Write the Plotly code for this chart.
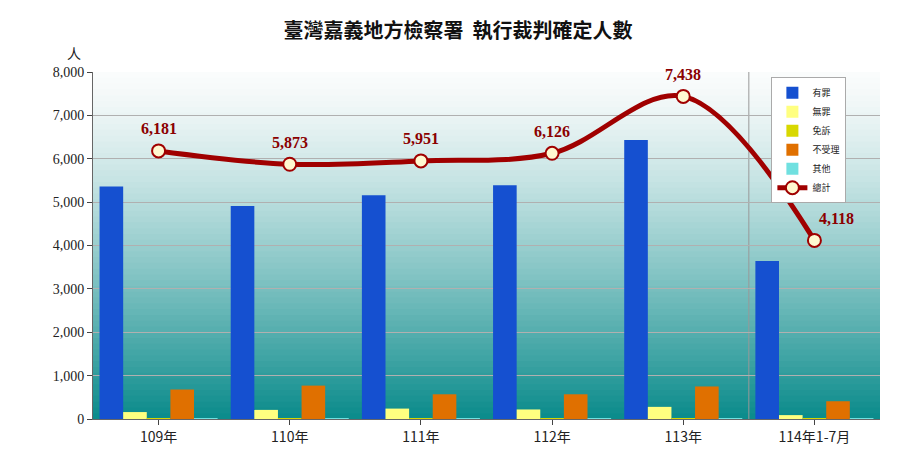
import plotly.graph_objects as go

years = ["109年", "110年", "111年", "112年", "113年", "114年1-7月"]
guilty = [5360, 4910, 5160, 5390, 6430, 3640]
not_guilty = [160, 210, 240, 220, 280, 90]
exempt = [10, 10, 10, 10, 10, 5]
rejected = [680, 770, 570, 570, 750, 410]
others = [15, 15, 15, 15, 15, 10]
total = [6181, 5873, 5951, 6126, 7438, 4118]

fig = go.Figure()

# background gradient white -> teal, overlapping rects so there are no seams
n = 60
for i in range(n):
    t = (i / (n - 1)) ** 1.3
    r = int(250 + (12 - 250) * t)
    g = int(252 + (140 - 252) * t)
    b = int(252 + (140 - 252) * t)
    fig.add_shape(type="rect", xref="x domain", yref="y domain", x0=0, x1=1,
                  y0=0, y1=1 - i / n, fillcolor=f"rgb({r},{g},{b})",
                  line_width=0, layer="below")
fig.add_shape(type="line", xref="x", yref="y domain", x0=4.5, x1=4.5, y0=0, y1=1,
              line=dict(color="#999", width=1), layer="below")

series = [("有罪", guilty, "#1550d0"), ("無罪", not_guilty, "#ffff80"),
          ("免訴", exempt, "#d8d800"), ("不受理", rejected, "#e07000"),
          ("其他", others, "#70e0e0")]
for name, vals, col in series:
    fig.add_trace(go.Bar(x=years, y=vals, name=name, marker_color=col,
                         marker_line_width=0))

fig.add_trace(go.Scatter(x=years, y=total, name="總計", mode="lines+markers",
                         line=dict(color="#a00000", width=5, shape="spline"),
                         marker=dict(size=13, color="#fff8d0", line=dict(color="#a00000", width=2))))

anns = [dict(text="人", xref="paper", yref="paper", x=-0.035, y=1.02,
             showarrow=False, yanchor="bottom",
             font=dict(family="Noto Sans CJK TC", size=14))]
for i, (yr, v) in enumerate(zip(years, total)):
    anns.append(dict(x=yr, y=v, text=f"<b>{v:,}</b>", showarrow=False,
                     yshift=22, xshift=22 if i == 5 else 0,
                     font=dict(family="Liberation Serif", size=16, color="#8b0000")))

fig.update_layout(
    width=900, height=450, barmode="group", bargap=0.1, bargroupgap=0,
    paper_bgcolor="white", plot_bgcolor="white",
    margin=dict(l=85, r=28, t=64, b=33),
    title=dict(text="<b>臺灣嘉義地方檢察署  執行裁判確定人數</b>", x=0.5, y=0.965,
               font=dict(family="Noto Sans CJK TC", size=20, color="#111")),
    font=dict(family="Liberation Serif", size=14, color="#222"),
    legend=dict(x=0.862, y=0.985, xanchor="left", yanchor="top", bgcolor="white",
                bordercolor="#aaa", borderwidth=1, itemwidth=30, tracegroupgap=0,
                font=dict(family="Noto Sans CJK TC", size=9)),
    annotations=anns,
)
fig.update_yaxes(range=[0, 8000], dtick=1000, tickformat=",", showgrid=True,
                 gridcolor="#b0b0b0", gridwidth=1, showline=True, linecolor="#666",
                 ticks="outside", zeroline=False)
fig.update_xaxes(showline=True, linecolor="#666", ticks="outside",
                 tickfont=dict(family="Noto Sans CJK TC", size=14))

fig.write_html("out.html")
